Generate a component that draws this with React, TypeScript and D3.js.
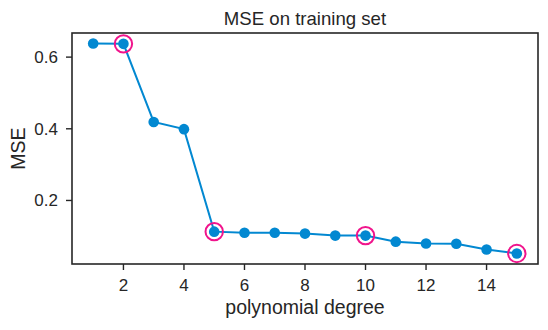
import React from "react";
import * as d3 from "d3";

const degrees = [1, 2, 3, 4, 5, 6, 7, 8, 9, 10, 11, 12, 13, 14, 15];
const mse = [0.638, 0.637, 0.419, 0.399, 0.113, 0.110, 0.110, 0.1075, 0.102, 0.102, 0.085, 0.080, 0.079, 0.063, 0.052];
const highlighted = [2, 5, 10, 15];
const xTicks = [2, 4, 6, 8, 10, 12, 14];
const yTicks = [0.2, 0.4, 0.6];

const W = 548, H = 330;
const M = { left: 72, right: 10, top: 33, bottom: 66 };
const ink = "#262626";
const lineColor = "#0288d1";
const ringColor = "#f0148c";
const font = "'Liberation Sans', Arial, sans-serif";

export default function App() {
  const xExt = d3.extent(degrees) as [number, number];
  const xPad = (xExt[1] - xExt[0]) * 0.05;
  const yExt = d3.extent(mse) as [number, number];
  const yPad = (yExt[1] - yExt[0]) * 0.05;
  const x = d3.scaleLinear().domain([xExt[0] - xPad, xExt[1] + xPad]).range([M.left, W - M.right]);
  const y = d3.scaleLinear().domain([yExt[0] - yPad, yExt[1] + yPad]).range([H - M.bottom, M.top]);
  const line = d3.line<number>().x((_, i) => x(degrees[i])).y((d) => y(d));
  const x0 = M.left, x1 = W - M.right, y0 = M.top, y1 = H - M.bottom;

  return (
    <svg width={W} height={H} style={{ position: "absolute", left: 0, top: 0, background: "#fff" }} fontFamily={font}>
      <text x={(x0 + x1) / 2} y={25} textAnchor="middle" fontSize={18.6} fill={ink}>MSE on training set</text>
      <path d={line(mse) || ""} fill="none" stroke={lineColor} strokeWidth={2} />
      {mse.map((v, i) => (
        <circle key={i} cx={x(degrees[i])} cy={y(v)} r={5.3} fill={lineColor} />
      ))}
      {highlighted.map((d) => {
        const i = degrees.indexOf(d);
        return <circle key={"h" + d} cx={x(d)} cy={y(mse[i])} r={8.7} fill="none" stroke={ringColor} strokeWidth={2} />;
      })}
      <rect x={x0} y={y0} width={x1 - x0} height={y1 - y0} fill="none" stroke={ink} strokeWidth={1.6} />
      {xTicks.map((t) => (
        <g key={"x" + t}>
          <line x1={x(t)} x2={x(t)} y1={y1} y2={y1 + 6} stroke={ink} strokeWidth={1.4} />
          <text x={x(t)} y={y1 + 27} textAnchor="middle" fontSize={17} fill={ink}>{t}</text>
        </g>
      ))}
      {yTicks.map((t) => (
        <g key={"y" + t}>
          <line x1={x0 - 6} x2={x0} y1={y(t)} y2={y(t)} stroke={ink} strokeWidth={1.4} />
          <text x={x0 - 14} y={y(t) + 6} textAnchor="end" fontSize={17} fill={ink}>{t.toFixed(1)}</text>
        </g>
      ))}
      <text x={(x0 + x1) / 2} y={314} textAnchor="middle" fontSize={19.5} fill={ink}>polynomial degree</text>
      <text transform={`translate(25, ${(y0 + y1) / 2}) rotate(-90)`} textAnchor="middle" fontSize={19.5} fill={ink}>MSE</text>
    </svg>
  );
}
